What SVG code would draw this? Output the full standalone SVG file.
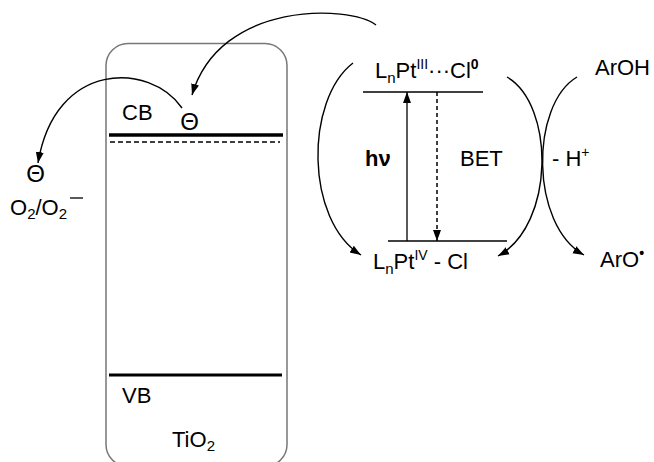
<svg xmlns="http://www.w3.org/2000/svg" width="654" height="462" viewBox="0 0 654 462">
<defs>
<style>
text{font-family:"Liberation Sans",Arial,sans-serif;font-size:22px;fill:#000}
.sub{font-size:15px}
.sup{font-size:14px}
.b{font-weight:bold}
.e{font-size:24px}
.cur{fill:none;stroke:#000;stroke-width:1.4}
.lvl{stroke:#000;stroke-width:1.3}
</style>
<marker id="ah" markerUnits="userSpaceOnUse" markerWidth="12" markerHeight="10" viewBox="0 0 12 10" refX="11" refY="5" orient="auto">
<path d="M0,1 L11,5 L0,9 Z" fill="#000"/>
</marker>
</defs>
<g id="tio2">
<rect x="106" y="43.5" width="181" height="423" rx="22" ry="22" fill="none" stroke="#777" stroke-width="1.5"/>
<line x1="109" y1="135" x2="283" y2="135" stroke="#000" stroke-width="3.5"/>
<line x1="110" y1="142" x2="280" y2="142" stroke="#000" stroke-width="1.5" stroke-dasharray="5,3"/>
<line x1="109" y1="375" x2="282" y2="375" stroke="#000" stroke-width="3"/>
<text x="122" y="120">CB</text>
<text x="189.5" y="130" text-anchor="middle" class="e">Θ</text>
<text x="122" y="403">VB</text>
<text x="172" y="447">TiO<tspan class="sub" dy="4">2</tspan></text>
</g>
<g id="o2">
<text x="35.5" y="182" text-anchor="middle" class="e">Θ</text>
<text x="10" y="215">O<tspan class="sub" dy="4">2</tspan><tspan dy="-4">/O</tspan><tspan class="sub" dy="4">2</tspan></text>
<line x1="70" y1="198" x2="83" y2="198" stroke="#000" stroke-width="1.3"/>
</g>
<g id="pt3">
<text x="375" y="78">L<tspan class="sub" dy="5">n</tspan><tspan dy="-5">Pt</tspan><tspan class="sup" dy="-9">III</tspan><tspan dy="9">···Cl</tspan><tspan class="sup b" dy="-9">0</tspan></text>
<line class="lvl" x1="363" y1="92" x2="483" y2="92"/>
</g>
<g id="pt4">
<text x="373" y="269">L<tspan class="sub" dy="5">n</tspan><tspan dy="-5">Pt</tspan><tspan class="sup" dy="-9">IV</tspan><tspan dy="9"> - Cl</tspan></text>
<line class="lvl" x1="388" y1="241" x2="507" y2="241"/>
</g>
<g id="labels">
<text x="365" y="166" class="b">hν</text>
<text x="460" y="166">BET</text>
<text x="552" y="166">- H<tspan class="sup" dy="-9">+</tspan></text>
</g>
<g id="aroh"><text x="595" y="75">ArOH</text></g>
<g id="aro"><text x="600" y="267">ArO<tspan class="sup b" dy="-9">•</tspan></text></g>
<g id="connectors">
<path class="cur" d="M376,25 C350,5 220,0 192,95" marker-end="url(#ah)"/>
<path class="cur" d="M182,108 C150,62 55,60 38,163" marker-end="url(#ah)"/>
<path class="cur" d="M353,63 C305,100 305,220 361,255" marker-end="url(#ah)"/>
<path class="cur" d="M507,77 C555,105 555,225 498,256" marker-end="url(#ah)"/>
<path class="cur" d="M577,77 C530,105 530,225 584,255" marker-end="url(#ah)"/>
<line x1="407" y1="241" x2="407" y2="92" stroke="#000" stroke-width="1.3" marker-end="url(#ah)"/>
<line x1="437" y1="92" x2="437" y2="241" stroke="#000" stroke-width="1.5" stroke-dasharray="4,3" marker-end="url(#ah)"/>
</g>
</svg>
